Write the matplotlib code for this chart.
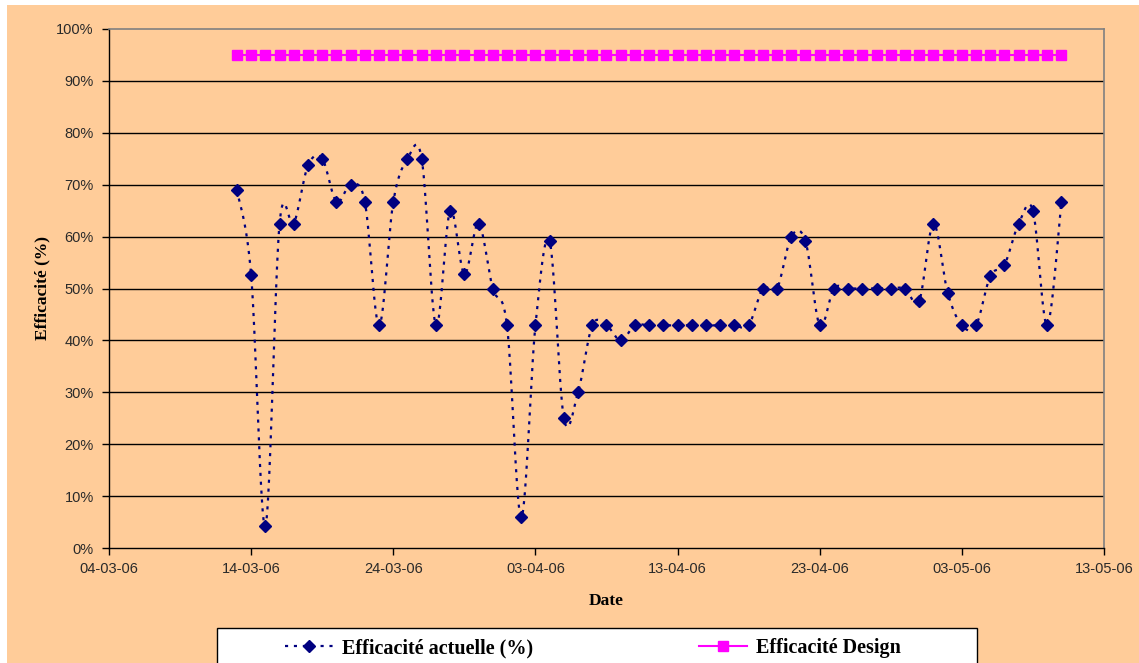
import numpy as np
import pandas as pd
import matplotlib
matplotlib.use("Agg")
import matplotlib.pyplot as plt
import matplotlib.dates as mdates
from matplotlib.lines import Line2D
from matplotlib.patches import Rectangle
from matplotlib.ticker import FuncFormatter

# daily efficiency readings, 13-03-06 .. 10-05-06
dates = pd.date_range("2006-03-13", "2006-05-10", freq="D")
actual = [69.0, 52.6, 4.2, 62.5, 62.5, 73.7, 75.0, 66.7, 70.0, 66.7,
          42.9, 66.7, 75.0, 75.0, 42.9, 65.0, 52.8, 62.5, 50.0, 42.9,
          5.9, 42.9, 59.1, 25.0, 30.0, 42.9, 42.9, 40.0,
          42.9, 42.9, 42.9, 42.9, 42.9, 42.9, 42.9, 42.9, 42.9,
          50.0, 50.0, 60.0, 59.1, 42.9,
          50.0, 50.0, 50.0, 50.0, 50.0, 50.0,
          47.6, 62.5, 49.2, 42.9, 42.9, 52.4, 54.6, 62.5, 65.0, 42.9, 66.7]
design = [95.0] * len(dates)

x_ticks = pd.date_range("2006-03-04", "2006-05-13", freq="10D")
y_ticks = np.arange(0, 101, 10)

navy = "#000080"
magenta = "#FF00FF"
peach = "#FFCC99"
dots = (0, (1.4, 2.6))


def smooth(xs, ys, n=24):
    # Bezier smoothing through every point (control points at 1/6 of neighbour span)
    xs = np.asarray(xs, float)
    ys = np.asarray(ys, float)
    px = np.concatenate([[xs[0]], xs, [xs[-1]]])
    py = np.concatenate([[ys[0]], ys, [ys[-1]]])
    out_x, out_y = [], []
    t = np.linspace(0, 1, n)
    for i in range(1, len(px) - 2):
        p0 = np.array([px[i], py[i]])
        p3 = np.array([px[i + 1], py[i + 1]])
        c1 = p0 + (np.array([px[i + 1], py[i + 1]]) - np.array([px[i - 1], py[i - 1]])) / 6
        c2 = p3 - (np.array([px[i + 2], py[i + 2]]) - np.array([px[i], py[i]])) / 6
        b = ((1 - t) ** 3)[:, None] * p0 + (3 * (1 - t) ** 2 * t)[:, None] * c1 \
            + (3 * (1 - t) * t ** 2)[:, None] * c2 + (t ** 3)[:, None] * p3
        out_x.extend(b[:, 0])
        out_y.extend(b[:, 1])
    return np.array(out_x), np.array(out_y)


fig = plt.figure(figsize=(11.39, 6.63), dpi=100, facecolor="white")
fig.patches.append(Rectangle((7 / 1139, 0), 1, 1 - 5 / 663, transform=fig.transFigure,
                             facecolor=peach, edgecolor="none", zorder=-10))
ax = fig.add_axes([109 / 1139, 115 / 663, 995 / 1139, 519 / 663])
ax.set_facecolor(peach)

xnum = mdates.date2num(dates)
sx, sy = smooth(xnum, actual)
ax.plot(sx, sy, color=navy, lw=1.6, ls=dots, zorder=3)
ax.plot(xnum, actual, ls="none", marker="D", ms=6.5, color=navy, zorder=4)
ax.plot(xnum, design, color=magenta, lw=1.5, marker="s", ms=7.5,
        markeredgecolor=magenta, zorder=4)

ax.set_xlim(mdates.date2num(x_ticks[0]), mdates.date2num(x_ticks[-1]))
ax.set_ylim(0, 100)
ax.set_xticks(mdates.date2num(x_ticks))
ax.xaxis.set_major_formatter(mdates.DateFormatter("%d-%m-%y"))
ax.set_yticks(y_ticks)
ax.yaxis.set_major_formatter(FuncFormatter(lambda v, p: f"{v:.0f}%"))

for v in y_ticks[1:-1]:
    ax.axhline(v, color="black", lw=1.0, zorder=1)

for s in ["left", "bottom"]:
    ax.spines[s].set_color("black")
    ax.spines[s].set_linewidth(1.0)
for s in ["top", "right"]:
    ax.spines[s].set_color("#808080")
    ax.spines[s].set_linewidth(1.2)

ax.tick_params(axis="both", direction="out", length=5, width=1, color="black",
               labelsize=10.5, labelcolor="#2a2a2a")
ax.tick_params(axis="x", pad=5)
ax.tick_params(axis="y", pad=6)
for lab in ax.get_xticklabels() + ax.get_yticklabels():
    lab.set_fontfamily("Liberation Sans")

ax.set_xlabel("Date", fontfamily="Liberation Serif", fontweight="bold", fontsize=12.5, labelpad=12)
ax.set_ylabel("Efficacité (%)", fontfamily="Liberation Serif", fontweight="bold", fontsize=12.5, labelpad=4)

# legend box drawn separately so its width can be set freely
fig.patches.append(Rectangle((217 / 1139, -0.01), 760 / 1139, 0.01 + 35 / 663,
                             transform=fig.transFigure, facecolor="white",
                             edgecolor="black", lw=1.0, zorder=5))
handles = [
    Line2D([], [], color=navy, lw=1.6, ls=dots, marker="D", ms=6.5),
    Line2D([], [], color=magenta, lw=1.5, marker="s", ms=7.5),
]
leg = fig.legend(handles, ["Efficacité actuelle (%)", "Efficacité Design"],
                 loc="upper left", bbox_to_anchor=(285 / 1139, 1 - 638 / 663),
                 ncol=2, frameon=False, columnspacing=8.2, handlelength=2.4,
                 borderpad=0, borderaxespad=0, handletextpad=0.45,
                 prop={"family": "Liberation Serif", "weight": "bold", "size": 14.5})
leg.set_zorder(6)

fig.savefig("out.png", dpi=100, facecolor=fig.get_facecolor())
